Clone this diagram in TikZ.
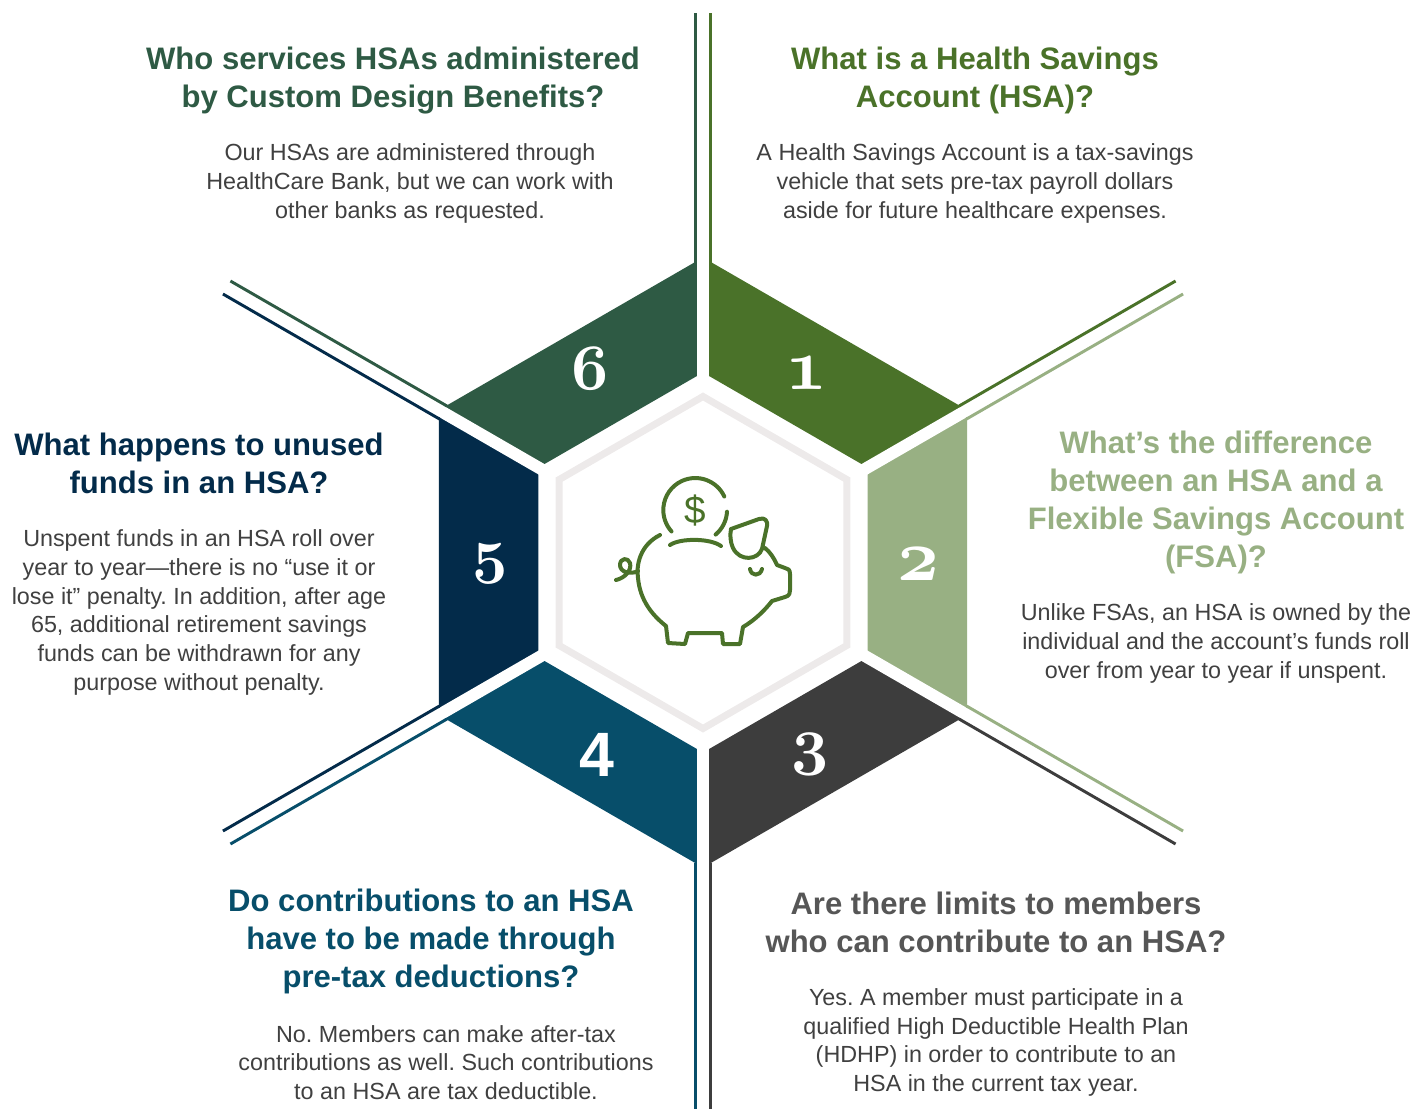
\documentclass[tikz,border=0pt]{standalone}
\usepackage{fontspec}
\setmainfont{Liberation Sans}
\usetikzlibrary{calc}
\frenchspacing

\definecolor{hsaone}{HTML}{4A7229}
\definecolor{hsatwo}{HTML}{98B083}
\definecolor{hsathree}{HTML}{3D3D3D}
\definecolor{hsafour}{HTML}{074E6A}
\definecolor{hsafive}{HTML}{032B4A}
\definecolor{hsasix}{HTML}{2E5A44}
\definecolor{askgray}{HTML}{565656}
\definecolor{answergray}{HTML}{404040}
\definecolor{hexgray}{HTML}{EDEAEA}

\newcommand{\oldnum}[2][1.95]{\scalebox{#1}{\usefont{OML}{cmm}{b}{it}\fontsize{24.88}{28}\selectfont #2}}

\tikzset{
  question/.style={align=center, inner sep=0pt, font=\bfseries\fontsize{23.3}{28.7}\selectfont},
  answer/.style={align=center, inner sep=0pt, text=answergray, font=\fontsize{17.5}{21.6}\selectfont},
  segnum/.style={text=white, inner sep=0pt},
  segline/.style={line width=2.2pt},
  pig/.style={draw=hsaone, line width=3pt, line cap=round, line join=round},
}

\begin{document}
\begin{tikzpicture}[x=0.75pt, y=-0.75pt]
\useasboundingbox (0,0) rectangle (1417,1108);
\coordinate (c) at (703,562.5);

% ring pieces
\foreach \k/\col in {1/hsaone, 2/hsatwo, 3/hsathree, 4/hsafour, 5/hsafive, 6/hsasix}{
  \pgfmathsetmacro{\a}{60*\k-150}
  \fill[\col] ($(c)+(\a:305)$) -- ($(c)+(\a+60:305)$)
    -- ($(c)+(\a+60:190)$) -- ($(c)+(\a:190)$) -- cycle;
}
\foreach \k in {0,...,5}
  \draw[white, line width=9pt] ($(c)+(60*\k-90:170)$) -- ($(c)+(60*\k-90:320)$);
\foreach \k/\col in {1/hsaone, 2/hsatwo, 3/hsathree, 4/hsafour, 5/hsafive, 6/hsasix}{
  \pgfmathsetmacro{\a}{60*\k-150}
  \draw[segline, \col] ($(c)+(\a:300)+(\a+90:7.5)$) -- ($(c)+(\a:550)+(\a+90:7.5)$);
  \draw[segline, \col] ($(c)+(\a+60:300)+(\a-30:7.5)$) -- ($(c)+(\a+60:550)+(\a-30:7.5)$);
}
\draw[hexgray, line width=5.25pt] ($(c)+(-90:166)$)
  \foreach \t in {-30,30,90,150,210}{ -- ($(c)+(\t:166)$) } -- cycle;

% numbers
\node[segnum] (n1) at (806,373.5) {\oldnum[2.2]{1}};
\node[segnum] (n2) at (918,564) {\oldnum[2.2]{2}};
\node[segnum] (n3) at (810,754) {\oldnum{3}};
\node[segnum, font=\bfseries\fontsize{47}{50}\selectfont] (n4) at (597,755) {4};
\node[segnum] (n5) at (490,564) {\oldnum[1.85]{5}};
\node[segnum] (n6) at (590,369) {\oldnum{6}};

% piggy bank
\draw[pig] (724.3,496.5) arc[start angle=-25, end angle=-222, radius=32];
\draw[pig] (727,511.7) arc[start angle=3, end angle=50, radius=32];
\node[text=hsaone, inner sep=0pt, font=\fontsize{29}{30}\selectfont] (dollar) at (695,511) {\$};
\draw[pig] (670,545) .. controls (680,538) and (710,538) .. (721,546);
\draw[pig] (660,535) .. controls (640,545) and (636,565) .. (638,578)
  .. controls (640,600) and (652,615) .. (666,626) -- (668,643) -- (685,644)
  -- (688,633) -- (722,633) -- (723,644) -- (740,644) -- (743,627)
  .. controls (755,620) and (765,610) .. (772,601) -- (785,597)
  .. controls (790,596) and (790,592) .. (790,590) -- (790,574)
  .. controls (790,570) and (788,568) .. (785,568) -- (777,565)
  .. controls (774,558) and (770,552) .. (765,548);
\draw[pig] (731,529) -- (759,519) .. controls (765,517) and (768,521) .. (767,526)
  -- (762,549) .. controls (758,560) and (740,562) .. (733,548)
  .. controls (730,541) and (730,535) .. (731,529);
\draw[pig] (750,569) .. controls (751,576) and (760,577) .. (762,569);
\draw[pig] (638,571) .. controls (630,575) and (620,572) .. (620,565)
  .. controls (620,558) and (628,557) .. (630,563)
  .. controls (632,570) and (625,578) .. (616,580);

% questions and answers
\node[question, text=hsaone] (q1) at (975,80.5) {What is a Health Savings\\Account (HSA)?};
\node[answer] (a1) at (975,183.5) {A Health Savings Account is a tax-savings\\vehicle that sets pre-tax payroll dollars\\aside for future healthcare expenses.};
\node[question, text=hsatwo] (q2) at (1216,502.5) {What’s the difference\\between an HSA and a\\Flexible Savings Account\\(FSA)?};
\node[answer] (a2) at (1216,643.5) {Unlike FSAs, an HSA is owned by the\\individual and the account’s funds roll\\over from year to year if unspent.};
\node[question, text=askgray] (q3) at (996,922.5) {Are there limits to members\\who can contribute to an HSA?};
\node[answer] (a3) at (996,1042.5) {Yes. A member must participate in a\\qualified High Deductible Health Plan\\(HDHP) in order to contribute to an\\HSA in the current tax year.};
\node[question, text=hsafour] (q4) at (431,941.5) {Do contributions to an HSA\\have to be made through\\pre-tax deductions?};
\node[answer] (a4) at (446,1062.5) {No. Members can make after-tax\\contributions as well. Such contributions\\to an HSA are tax deductible.};
\node[question, text=hsafive] (q5) at (199,463.5) {What happens to unused\\funds in an HSA?};
\node[answer] (a5) at (199,612.5) {Unspent funds in an HSA roll over\\year to year—there is no “use it or\\lose it” penalty. In addition, after age\\65, additional retirement savings\\funds can be withdrawn for any\\purpose without penalty.};
\node[question, text=hsasix] (q6) at (393,80.5) {Who services HSAs administered\\by Custom Design Benefits?};
\node[answer] (a6) at (410,183.5) {Our HSAs are administered through\\HealthCare Bank, but we can work with\\other banks as requested.};
\end{tikzpicture}
\end{document}
